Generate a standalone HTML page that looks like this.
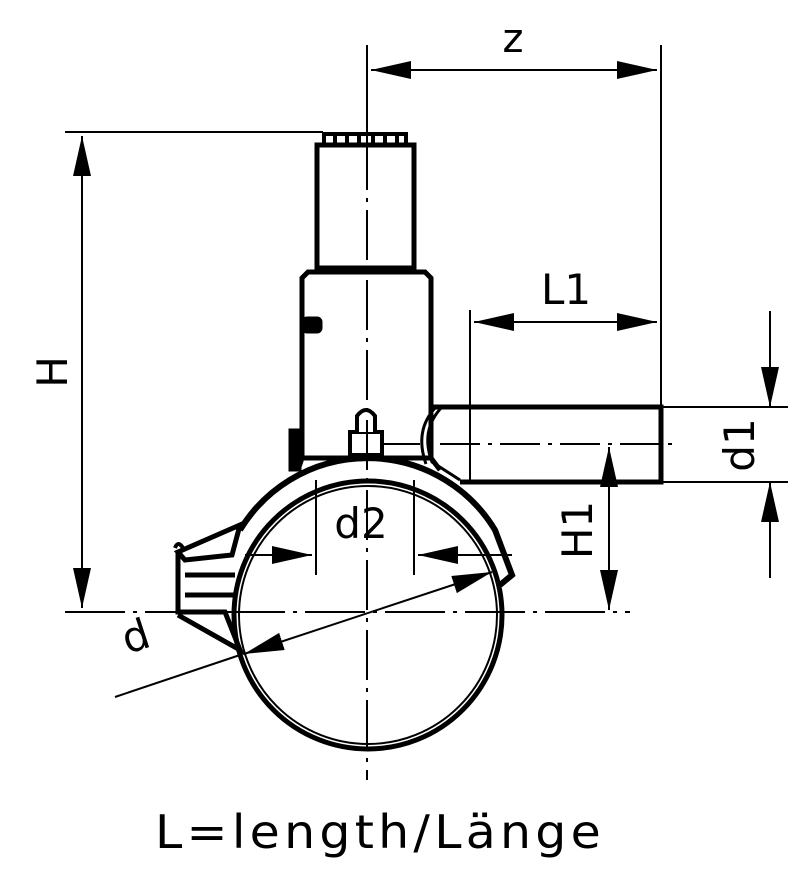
<!DOCTYPE html>
<html><head><meta charset="utf-8"><style>
html,body{margin:0;padding:0;background:#fff;}
svg{display:block;}
text{font-family:"DejaVu Sans","Liberation Sans",sans-serif;fill:#000;}
</style></head><body>
<svg width="804" height="883" viewBox="0 0 804 883" xmlns="http://www.w3.org/2000/svg">
<defs>
<marker id="a" viewBox="0 0 40 20" refX="40" refY="10" markerWidth="40" markerHeight="20" markerUnits="userSpaceOnUse" orient="auto-start-reverse"><path d="M0,1 L40,10 L0,19 Z" fill="#000"/></marker>
</defs>
<g stroke="#000" fill="none">
<g stroke-width="5" fill="#fff">
<rect x="324" y="134" width="82" height="11" stroke-width="4"/>
<rect x="317" y="145" width="97" height="123"/>
<path d="M302,458 L302,278 L308,272 L425,272 L431,278 L431,458"/>
<path d="M431,407 L661,407 L661,482 L460,482"/>
<path d="M298,470 L302,458 L431,458 L440,470"/>
<path d="M350,455 L350,432 L382,432 L382,455 Z" stroke-width="4"/>
<path d="M357,432 L357,416 Q366,404 375,416 L375,432" stroke-width="4"/>
</g>
<g stroke-width="4">
<line x1="335" y1="136" x2="335" y2="144"/><line x1="347" y1="136" x2="347" y2="144"/>
<line x1="359" y1="136" x2="359" y2="144"/><line x1="373" y1="136" x2="373" y2="144"/>
<line x1="385" y1="136" x2="385" y2="144"/><line x1="397" y1="136" x2="397" y2="144"/>
</g>
<g stroke-width="3">
<path d="M442,407 Q420,430 432,462 L460,480"/>
<path d="M436,407 Q414,430 426,464"/>
</g>
<g stroke-width="3">
<rect x="303" y="318" width="18" height="14" rx="4" fill="#000"/>
<path d="M290,430 L300,430 L300,470 L290,470 Z" fill="#000"/>
</g>
<circle cx="368" cy="615" r="134" stroke-width="5"/>
<circle cx="368" cy="615" r="129" stroke-width="2"/>
<path d="M240,530 A149,149 0 0 1 495,530 L512,575 L500,585" stroke-width="6"/>
<g stroke-width="5">
<path d="M178,552 L240,525 L232,555 L185,560 Z" fill="#fff"/>
<path d="M178,552 L178,612 L225,612 L240,650 L178,615"/>
<line x1="185" y1="575" x2="235" y2="575"/>
<line x1="185" y1="595" x2="235" y2="595"/>
<path d="M175,548 Q178,540 183,548" stroke-width="4"/>
</g>
<g stroke-width="2">
<line x1="367" y1="45" x2="367" y2="140"/>
<line x1="661" y1="45" x2="661" y2="407"/>
<line x1="371" y1="70" x2="657" y2="70" marker-start="url(#a)" marker-end="url(#a)"/>
<line x1="470" y1="310" x2="470" y2="482"/>
<line x1="474" y1="322" x2="657" y2="322" marker-start="url(#a)" marker-end="url(#a)"/>
<line x1="663" y1="407" x2="788" y2="407"/>
<line x1="663" y1="482" x2="788" y2="482"/>
<line x1="770" y1="311" x2="770" y2="407" marker-end="url(#a)"/>
<line x1="770" y1="578" x2="770" y2="482" marker-end="url(#a)"/>
<line x1="609" y1="447" x2="609" y2="610" marker-start="url(#a)" marker-end="url(#a)"/>
<line x1="65" y1="132" x2="323" y2="132"/>
<line x1="82" y1="136" x2="82" y2="608" marker-start="url(#a)" marker-end="url(#a)"/>
<line x1="316" y1="480" x2="316" y2="575"/>
<line x1="414" y1="480" x2="414" y2="575"/>
<line x1="245" y1="555" x2="312" y2="555" marker-end="url(#a)"/>
<line x1="512" y1="555" x2="418" y2="555" marker-end="url(#a)"/>
<line x1="115" y1="697" x2="240" y2="655"/>
<line x1="244" y1="654" x2="492" y2="572" marker-start="url(#a)" marker-end="url(#a)"/>
<line x1="65" y1="612" x2="630" y2="612" stroke-dasharray="60,8,4,8"/>
<line x1="367" y1="140" x2="367" y2="780" stroke-dasharray="50,8,4,8"/>
<line x1="380" y1="444" x2="680" y2="444" stroke-dasharray="40,8,4,8"/>
</g>
</g>
<text x="513" y="52" font-size="40" text-anchor="middle">z</text>
<text x="566" y="304" font-size="42" text-anchor="middle">L1</text>
<text x="361" y="538" font-size="42" text-anchor="middle">d2</text>
<text transform="translate(67,372) rotate(-90)" font-size="42" text-anchor="middle">H</text>
<text transform="translate(592,530) rotate(-90)" font-size="42" text-anchor="middle">H1</text>
<text transform="translate(754,445) rotate(-90)" font-size="42" text-anchor="middle">d1</text>
<text transform="translate(140,650) rotate(-18)" font-size="42" text-anchor="middle">d</text>
<text x="380" y="848" font-size="46" text-anchor="middle" letter-spacing="4" textLength="450" lengthAdjust="spacingAndGlyphs">L=length/Länge</text>
</svg>
</body></html>
